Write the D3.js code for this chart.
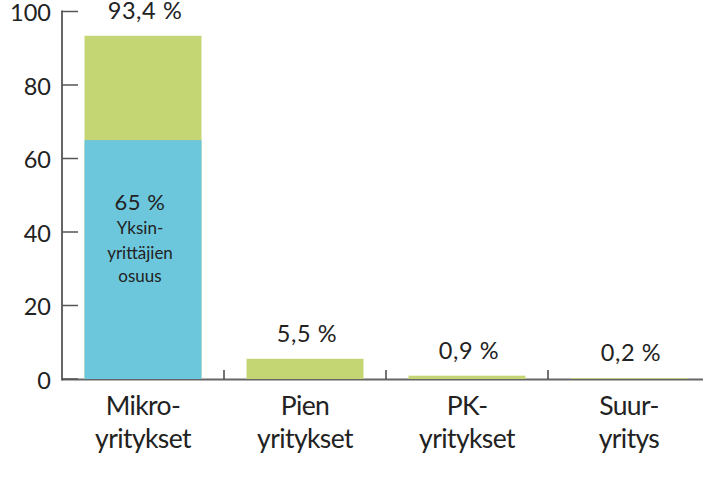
<!DOCTYPE html>
<html><head><meta charset="utf-8">
<script src="https://cdn.jsdelivr.net/npm/d3@7"></script>
<style>
html,body{margin:0;padding:0;background:#fff;}
svg{display:block;}
text{font-family:Lato,"Open Sans",sans-serif;fill:#222;}
</style></head>
<body>
<svg id="c" width="703" height="478"></svg>
<script>
const categories = [["Mikro-","yritykset"],["Pien","yritykset"],["PK-","yritykset"],["Suur-","yritys"]];
const totals = [93.4, 5.5, 0.9, 0.2];
const totalLabels = ["93,4 %","5,5 %","0,9 %","0,2 %"];
const soloShare = [65, 0, 0, 0];
const soloLabel = ["65 %","Yksin-","yrittäjien","osuus"];
const yTicks = [0,20,40,60,80,100];

const svg = d3.select("#c");
const x = d3.scaleBand().domain(d3.range(categories.length)).range([62,710]).paddingInner(0.278).paddingOuter(0.139);
const y = d3.scaleLinear().domain([0,100]).range([379,11.5]);

// baseline
svg.append("line").attr("x1",62).attr("x2",703).attr("y1",y(0)+0.5).attr("y2",y(0)+0.5)
  .attr("stroke","#666").attr("stroke-width",2);
// separators
const seps = d3.range(1,categories.length).map(i=>x(i)-x.step()*x.paddingInner()/2);
svg.selectAll(".sep").data(seps).join("line")
  .attr("x1",d=>d).attr("x2",d=>d).attr("y1",y(0)-9).attr("y2",y(0)).attr("stroke","#444").attr("stroke-width",1.5);

// bars
svg.selectAll(".tot").data(totals).join("rect")
  .attr("x",(d,i)=>x(i)).attr("width",x.bandwidth())
  .attr("y",d=>y(d)).attr("height",d=>y(0)-y(d)).attr("fill","#c4d674");
svg.selectAll(".solo").data(soloShare).join("rect")
  .attr("x",(d,i)=>x(i)).attr("width",x.bandwidth())
  .attr("y",d=>y(d)).attr("height",d=>y(0)-y(d)).attr("fill","#6cc7dc");

// y axis
const ax = svg.append("g").attr("transform","translate(62,0)");
ax.append("line").attr("x1",0).attr("x2",0).attr("y1",y(100)-1).attr("y2",y(0)+1.5).attr("stroke","#333").attr("stroke-width",1.5);
ax.selectAll(".tk").data(yTicks).join("line").attr("x1",0).attr("x2",16)
  .attr("y1",d=>y(d)).attr("y2",d=>y(d)).attr("stroke","#555").attr("stroke-width",1.5);
ax.selectAll(".tl").data(yTicks).join("text").attr("x",-11).attr("y",d=>y(d)+9.5)
  .attr("text-anchor","end").attr("font-size",23.5).text(d=>d);

// value labels
svg.selectAll(".vl").data(totals).join("text")
  .attr("x",(d,i)=>x(i)+x.bandwidth()/2+2).attr("y",d=>y(d)-17)
  .attr("text-anchor","middle").attr("font-size",23.5).attr("letter-spacing",0.6).text((d,i)=>totalLabels[i]);

// inner label
const cx0 = x(0)+x.bandwidth()/2-3;
svg.append("text").attr("x",cx0).attr("y",y(soloShare[0])+70).attr("text-anchor","middle").attr("font-size",22).attr("letter-spacing",0.5).text(soloLabel[0]);
svg.append("text").attr("x",cx0).attr("y",y(soloShare[0])+94).attr("text-anchor","middle").attr("font-size",17).text(soloLabel[1]);
svg.append("text").attr("x",cx0).attr("y",y(soloShare[0])+119).attr("text-anchor","middle").attr("font-size",17).text(soloLabel[2]);
svg.append("text").attr("x",cx0).attr("y",y(soloShare[0])+142).attr("text-anchor","middle").attr("font-size",17).text(soloLabel[3]);

// category labels
const cl = svg.selectAll(".cl").data(categories).join("text")
  .attr("text-anchor","middle").attr("font-size",26.5).attr("letter-spacing",-0.6);
cl.each(function(d,i){
  const t=d3.select(this);
  d.forEach((s,j)=>t.append("tspan").attr("x",x(i)+x.bandwidth()/2).attr("y",415+j*33).text(s));
});
</script>
</body></html>
